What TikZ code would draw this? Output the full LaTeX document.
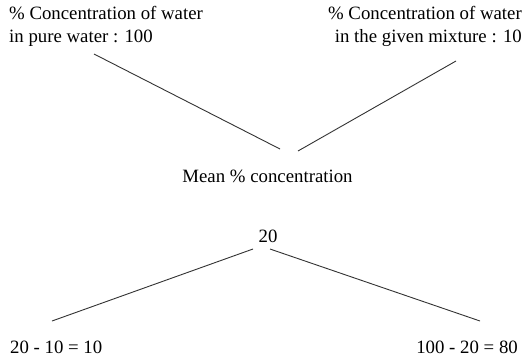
\documentclass[tikz,border=0pt]{standalone}
\usepackage{fontspec}
\setmainfont{Liberation Serif}
\begin{document}
\begin{tikzpicture}[x=1bp,y=-1bp,
  lbl/.style={inner sep=0pt, font=\fontsize{18.8bp}{23bp}\selectfont},
  conn/.style={line width=0.9bp, draw=black!80}]
\useasboundingbox[fill=white] (0,0) rectangle (529,362);
\node[lbl, anchor=base west, align=left] (tl) at (9,42) {\% Concentration of water\\in pure water : 100};
\node[lbl, anchor=base east, align=right] (tr) at (522,42) {\% Concentration of water\\in the given mixture : 10};
\node[lbl, anchor=base] (mean) at (267.5,182) {Mean \% concentration};
\node[lbl, anchor=base] (res) at (268,242) {20};
\node[lbl, anchor=base west] (bl) at (10,353) {20 - 10 = 10};
\node[lbl, anchor=base east] (br) at (518,353) {100 - 20 = 80};
\coordinate (a1) at (94,54);
\coordinate (a2) at (280,149);
\coordinate (b1) at (456,61);
\coordinate (b2) at (298,151);
\coordinate (c1) at (253,249);
\coordinate (c2) at (52,321);
\coordinate (d1) at (270,249);
\coordinate (d2) at (480,321);
\draw[conn] (a1) -- (a2);
\draw[conn] (b1) -- (b2);
\draw[conn] (c1) -- (c2);
\draw[conn] (d1) -- (d2);
\end{tikzpicture}
\end{document}
